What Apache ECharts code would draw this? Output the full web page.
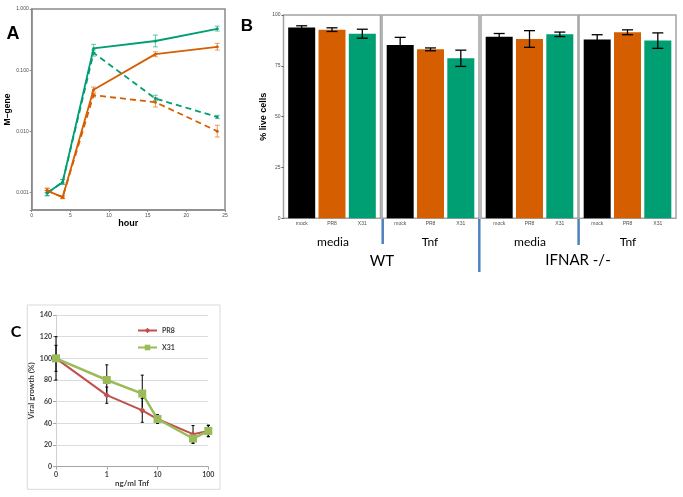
<!DOCTYPE html>
<html><head><meta charset="utf-8">
<script src="https://cdn.jsdelivr.net/npm/echarts@6/dist/echarts.min.js"></script>
<style>html,body{margin:0;padding:0;background:#fff}#c{width:683px;height:497px}</style>
</head><body><div id="c"></div>
<script>
// ---------- Panel A data (M-gene, log scale) ----------
const hours = [2, 4, 8, 16, 24];
const aTickLabels = ['0.001', '0.010', '0.100', '1.000'];
const x31Media = [0.00099, 0.00148, 0.227, 0.300, 0.475];
const pr8Media = [0.00108, 0.00084, 0.048, 0.183, 0.241];
const x31Tnf = [0.00099, 0.00148, 0.192, 0.0344, 0.0172];
const pr8Tnf = [0.00108, 0.00084, 0.039, 0.030, 0.0101];
const x31MediaErr = [[0.00089, 0.00108], [0.00137, 0.00163], [0.192, 0.264], [0.241, 0.375], [0.436, 0.526]];
const pr8MediaErr = [[0.00100, 0.00118], [0.00080, 0.00088], [0.044, 0.053], [0.166, 0.200], [0.213, 0.274]];
const x31TnfErr = [[0.00089, 0.00108], [0.00137, 0.00163], [0.170, 0.213], [0.032, 0.039], [0.0162, 0.0183]];
const pr8TnfErr = [[0.00100, 0.00118], [0.00080, 0.00088], [0.0365, 0.0415], [0.025, 0.0356], [0.0081, 0.0126]];

// ---------- Panel B data (% live cells) ----------
const bCats = ['mock', 'PR8', 'X31'];
const wtMedia = [93.8, 92.8, 90.8];
const wtMediaErr = [0.9, 0.9, 2.2];
const wtTnf = [85.2, 83.1, 78.7];
const wtTnfErr = [3.8, 0.7, 4.0];
const koMedia = [89.3, 88.2, 90.5];
const koMediaErr = [1.6, 4.1, 1.1];
const koTnf = [88.0, 91.5, 87.4];
const koTnfErr = [2.3, 1.2, 3.8];

// ---------- Panel C data (viral growth) ----------
const doses = [0.1, 1, 5, 10, 50, 100]; // 0.1 marks the untreated "0" dose
const doseTickLabels = ['0', '1', '10', '100'];
const pr8Growth = [100, 66, 52, 44, 30, 33];
const pr8GrowthErr = [12, 7.5, 11, 3.5, 8, 5];
const x31Growth = [100, 80, 67.5, 44, 26, 33];
const x31GrowthErr = [20, 14, 17, 4, 4.5, 5.4];

// ---------- styles ----------
const GREEN = '#009E73', ORANGE = '#D55E00';
const barColors = ['#000000', ORANGE, GREEN];
const SANS = 'Liberation Sans';
const CAL = 'Lato';

function errBar(cap, color, lw) {
  return function (params, api) {
    const x = api.value(0), lo = api.value(1), hi = api.value(2);
    const a = api.coord([x, lo]), b = api.coord([x, hi]);
    const st = { stroke: color, lineWidth: lw };
    return { type: 'group', children: [
      { type: 'line', shape: { x1: a[0], y1: a[1], x2: b[0], y2: b[1] }, style: st },
      { type: 'line', shape: { x1: a[0] - cap, y1: a[1], x2: a[0] + cap, y2: a[1] }, style: st },
      { type: 'line', shape: { x1: b[0] - cap, y1: b[1], x2: b[0] + cap, y2: b[1] }, style: st }
    ] };
  };
}

const grids = [], xAxes = [], yAxes = [], series = [];

// Panel A
grids.push({ left: 31.7, top: 9, width: 193.3, height: 201, show: true, borderColor: '#8a8a8a', borderWidth: 1.5 });
xAxes.push({ gridIndex: 0, type: 'value', min: 0, max: 25, interval: 5,
  axisLine: { lineStyle: { color: '#8a8a8a', width: 1.5 } }, axisTick: { length: 2, lineStyle: { color: '#8a8a8a' } },
  axisLabel: { fontSize: 5, color: '#4d4d4d', margin: 3, fontFamily: SANS }, splitLine: { show: false },
  name: 'hour', nameLocation: 'middle', nameGap: 6, nameTextStyle: { fontSize: 9, fontWeight: 'bold', color: '#000', fontFamily: SANS } });
yAxes.push({ gridIndex: 0, type: 'log', logBase: 10, min: 0.00052, max: 1,
  axisLine: { show: true, lineStyle: { color: '#8a8a8a', width: 1.5 } }, axisTick: { length: 2, lineStyle: { color: '#8a8a8a' } },
  axisLabel: { fontSize: 5, color: '#4d4d4d', margin: 3, fontFamily: SANS, showMinLabel: true,
    formatter: v => { const l = Math.log10(v); return Math.abs(l - Math.round(l)) < 1e-6 ? (aTickLabels[Math.round(l) + 3] || '') : ''; } },
  splitLine: { show: false },
  name: 'M\u2212gene', nameLocation: 'middle', nameGap: 15, nameTextStyle: { fontSize: 8.5, fontWeight: 'bold', color: '#000', fontFamily: SANS } });

function aLine(name, vals, color, dashed) {
  series.push({ name, type: 'line', xAxisIndex: 0, yAxisIndex: 0, data: hours.map((h, i) => [h, vals[i]]),
    lineStyle: { color, width: 1.8, type: dashed ? [6, 4] : 'solid' }, itemStyle: { color },
    symbol: 'circle', symbolSize: 3, z: 3 });
}
function aErr(name, errs, color) {
  series.push({ name, type: 'custom', xAxisIndex: 0, yAxisIndex: 0, encode: { x: 0, y: [1, 2] },
    data: hours.map((h, i) => [h, errs[i][0], errs[i][1]]), renderItem: errBar(2.5, color, 1.1), z: 2 });
}
aErr('eA1', x31MediaErr, 'rgba(0,158,115,0.55)');
aErr('eA2', pr8MediaErr, 'rgba(213,94,0,0.55)');
aErr('eA3', x31TnfErr, 'rgba(0,158,115,0.55)');
aErr('eA4', pr8TnfErr, 'rgba(213,94,0,0.55)');
aLine('A X31 media', x31Media, GREEN, false);
aLine('A PR8 media', pr8Media, ORANGE, false);
aLine('A X31 Tnf', x31Tnf, GREEN, true);
aLine('A PR8 Tnf', pr8Tnf, ORANGE, true);

// Panel B
const facetLeft = [283.5, 382, 481, 579];
const facetW = 97;
const facets = [[wtMedia, wtMediaErr], [wtTnf, wtTnfErr], [koMedia, koMediaErr], [koTnf, koTnfErr]];
facetLeft.forEach((L, k) => {
  // frame grid
  const gf = grids.length;
  grids.push({ left: L, top: 15, width: facetW, height: 203.3, show: true, borderColor: '#a3a3a3', borderWidth: 1.5 });
  xAxes.push({ gridIndex: gf, type: 'value', min: 0, max: 1, show: false });
  yAxes.push({ gridIndex: gf, type: 'value', min: 0, max: 100, interval: 25, show: k === 0,
    axisLine: { show: false }, axisTick: { show: true, length: 2, lineStyle: { color: '#555' } },
    axisLabel: { fontSize: 5, color: '#4d4d4d', margin: 3, fontFamily: SANS }, splitLine: { show: false },
    name: '% live cells', nameLocation: 'middle', nameGap: 10,
    nameTextStyle: { fontSize: 9, fontWeight: 'bold', color: '#000', fontFamily: SANS } });
  // data grid (ggplot-style 0.6 category expansion => 0.1 unit outside each category band)
  const gd = grids.length;
  const unit = facetW / 3.2;
  grids.push({ left: L + unit * 0.1, top: 15, width: unit * 3, height: 203.3 });
  const xi = xAxes.length, yi = yAxes.length;
  xAxes.push({ gridIndex: gd, type: 'category', data: bCats, boundaryGap: true,
    axisLine: { show: false }, axisTick: { show: false },
    axisLabel: { fontSize: 5, color: '#4d4d4d', margin: 2.5, fontFamily: SANS } });
  yAxes.push({ gridIndex: gd, type: 'value', min: 0, max: 100, show: false });
  const [vals, errs] = facets[k];
  series.push({ name: 'B' + k, type: 'bar', xAxisIndex: xi, yAxisIndex: yi, barWidth: 27,
    data: vals.map((v, i) => ({ value: v, itemStyle: { color: barColors[i] } })), z: 2 });
  series.push({ name: 'eB' + k, type: 'custom', xAxisIndex: xi, yAxisIndex: yi, encode: { x: 0, y: [1, 2] },
    data: vals.map((v, i) => [i, v - errs[i], v + errs[i]]), renderItem: errBar(5.5, '#000', 1.3), z: 3 });
});

// Panel C
const gc = grids.length;
grids.push({ left: 56, top: 315, width: 152.3, height: 151.7 });
const xc = xAxes.length, yc = yAxes.length;
xAxes.push({ gridIndex: gc, type: 'log', logBase: 10, min: 0.1, max: 100,
  axisLine: { lineStyle: { color: '#a6a6a6', width: 1 } }, axisTick: { length: 3, lineStyle: { color: '#a6a6a6' } },
  axisLabel: { fontSize: 7, fontWeight: 'bold', color: '#404040', margin: 5, fontFamily: CAL,
    formatter: v => doseTickLabels[Math.round(Math.log10(v)) + 1] },
  splitLine: { show: false },
  name: 'ng/ml Tnf', nameLocation: 'middle', nameGap: 8,
  nameTextStyle: { fontSize: 8, fontWeight: 'bold', color: '#404040', fontFamily: CAL } });
yAxes.push({ gridIndex: gc, type: 'value', min: 0, max: 140, interval: 20,
  axisLine: { show: true, lineStyle: { color: '#d0d0d0' } }, axisTick: { show: true, length: 3, lineStyle: { color: '#a6a6a6' } },
  axisLabel: { fontSize: 7, fontWeight: 'bold', color: '#404040', margin: 4, fontFamily: CAL },
  splitLine: { show: true, lineStyle: { color: '#d9dde3', width: 1 } },
  name: 'Viral growth (%)', nameLocation: 'middle', nameGap: 16,
  nameTextStyle: { fontSize: 8, fontWeight: 'bold', color: '#404040', fontFamily: CAL } });
series.push({ name: 'ePR8', type: 'custom', xAxisIndex: xc, yAxisIndex: yc, encode: { x: 0, y: [1, 2] },
  data: doses.map((d, i) => [d, pr8Growth[i] - pr8GrowthErr[i], pr8Growth[i] + pr8GrowthErr[i]]), renderItem: errBar(1.5, '#000', 1), z: 1 });
series.push({ name: 'eX31', type: 'custom', xAxisIndex: xc, yAxisIndex: yc, encode: { x: 0, y: [1, 2] },
  data: doses.map((d, i) => [d, x31Growth[i] - x31GrowthErr[i], x31Growth[i] + x31GrowthErr[i]]), renderItem: errBar(1.5, '#000', 1), z: 1 });
series.push({ name: 'PR8', type: 'line', xAxisIndex: xc, yAxisIndex: yc, data: doses.map((d, i) => [d, pr8Growth[i]]),
  lineStyle: { color: '#c0504d', width: 2 }, itemStyle: { color: '#c0504d' }, symbol: 'diamond', symbolSize: 6, z: 2 });
series.push({ name: 'X31', type: 'line', xAxisIndex: xc, yAxisIndex: yc, data: doses.map((d, i) => [d, x31Growth[i]]),
  lineStyle: { color: '#9bbb59', width: 2.5 }, itemStyle: { color: '#9bbb59' }, symbol: 'rect', symbolSize: 8, z: 3 });

const txt = (t, x, y, size, weight, font, color) => ({ type: 'text', x, y, z: 10,
  style: { text: t, fontSize: size, fontWeight: weight, fontFamily: font, fill: color || '#000', align: 'center', verticalAlign: 'middle' } });
const vline = (x, y1, y2) => ({ type: 'line', z: 10, shape: { x1: x, y1, x2: x, y2 }, style: { stroke: '#4f81bd', lineWidth: 2.5 } });

const chart = echarts.init(document.getElementById('c'), null, { renderer: 'canvas' });
chart.setOption({
  animation: false,
  backgroundColor: '#fff',
  grid: grids, xAxis: xAxes, yAxis: yAxes, series,
  legend: { data: ['PR8', 'X31'], left: 137, top: 327, padding: 0, orient: 'vertical', itemWidth: 19, itemHeight: 7, itemGap: 10,
    textStyle: { fontSize: 7, fontWeight: 'bold', color: '#404040', fontFamily: CAL } },
  graphic: [
    { type: 'rect', shape: { x: 27.3, y: 305, width: 192.7, height: 184.3 }, style: { fill: 'none', stroke: '#d9d9d9', lineWidth: 1 }, z: 0 },
    txt('A', 13, 34, 18, 'bold', SANS),
    txt('B', 247, 26, 17, 'bold', SANS),
    txt('C', 16, 332, 16, 'bold', CAL),
    txt('media', 333, 241.7, 12, 'normal', CAL),
    txt('Tnf', 430, 241.7, 12, 'normal', CAL),
    txt('media', 530, 241.7, 12, 'normal', CAL),
    txt('Tnf', 628, 241.7, 12, 'normal', CAL),
    txt('WT', 382, 261, 15, 'normal', CAL),
    txt('IFNAR -/-', 578, 260, 15, 'normal', CAL),
    vline(382.7, 219, 244),
    vline(479.3, 219, 272),
    vline(578.6, 219, 245)
  ]
});
</script></body></html>
